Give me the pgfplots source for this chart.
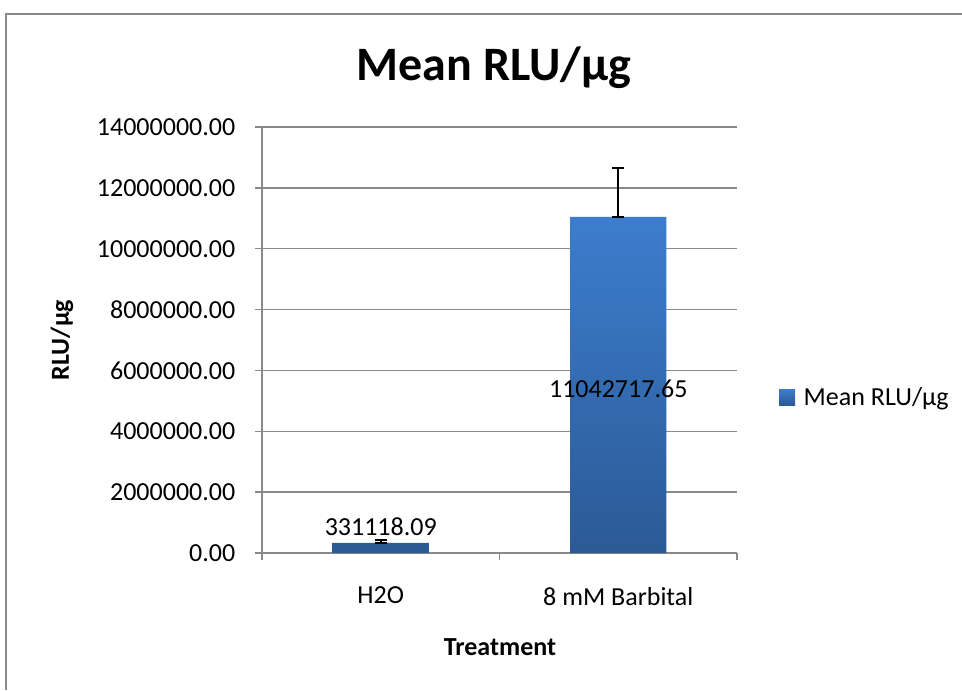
\documentclass[border=0pt]{standalone}
\usepackage{pgfplots}
\pgfplotsset{compat=1.18}
\usepackage{pgfplotstable}
\usepackage{fontspec}
\setmainfont{Carlito}
\definecolor{barTop}{HTML}{3C7DCD}
\definecolor{barBot}{HTML}{2B5A96}
\definecolor{gridc}{HTML}{898989}
\pgfplotstableread{
x y ep em
0 331118.09 90000 0
1 11042717.65 1620000 0
}\datatable
\begin{document}
\begin{tikzpicture}[x=0.75pt,y=0.75pt]
\path[use as bounding box] (0,0) rectangle (962,690);
\draw[gridc, line width=1.5pt] (5.5,0) -- (5.5,675.5) -- (962,675.5);
\node[font=\fontsize{36}{42}\selectfont\bfseries] at (494,622) {Mean RLU/µg};
\node[font=\fontsize{19.5}{23}\selectfont\bfseries, rotate=90] at (62,350) {RLU/µg};
\node[font=\fontsize{19.5}{23}\selectfont\bfseries] at (500,43) {Treatment};
\begin{axis}[
  at={(196.5pt,102.75pt)}, anchor=south west,
  scale only axis, width=356.25pt, height=319.5pt,
  xmin=-0.5, xmax=1.5, ymin=0, ymax=14000000,
  ybar, bar width=0.405,
  ytick={0,2000000,4000000,6000000,8000000,10000000,12000000,14000000},
  scaled y ticks=false,
  yticklabel={\pgfmathprintnumber[fixed,fixed zerofill,precision=2,1000 sep={},assume math mode=true]{\tick}},
  yticklabel style={xshift=-11pt},
  ymajorgrids, major grid style={gridc, line width=1pt},
  axis x line*=bottom, axis y line*=left,
  axis line style={gridc, line width=1pt, -},
  tick style={gridc, line width=1pt},
  tick align=outside, major tick length=5.5pt,
  xtick={-0.5,0.5,1.5}, xticklabels={},
  extra x ticks={0,1}, extra x tick labels={H2O,8 mM Barbital},
  extra x tick style={major tick length=0pt, xticklabel style={yshift=-22pt}},
  tick label style={font=\fontsize{19.5}{23}\selectfont, text=black},
  legend style={draw=none, fill=none, at={(1.088,0.366)}, anchor=west,
    font=\fontsize{19.5}{23}\selectfont, inner sep=0pt},
  legend image code/.code={\fill[top color=barTop,bottom color=barBot] (0pt,-6pt) rectangle (12pt,6pt); \path (0pt,0pt) -- (16.5pt,0pt);},
]
\addplot[draw=none, top color=barTop, bottom color=barBot,
  error bars/.cd, y dir=both, y explicit,
  error bar style={black, line width=1.5pt},
  error mark options={black, line width=1.5pt, mark size=4.5pt, rotate=90}]
  table[x=x, y=y, y error plus=ep, y error minus=em] {\datatable};
\addlegendentry{Mean RLU/µg}
\node[anchor=base, font=\fontsize{19.5}{23}\selectfont, yshift=5.25pt] at (axis cs:0,331118.09) {331118.09};
\node[anchor=center, font=\fontsize{19.5}{23}\selectfont, yshift=-3pt] at (axis cs:1,5521358.8) {11042717.65};
\end{axis}
\end{tikzpicture}
\end{document}
